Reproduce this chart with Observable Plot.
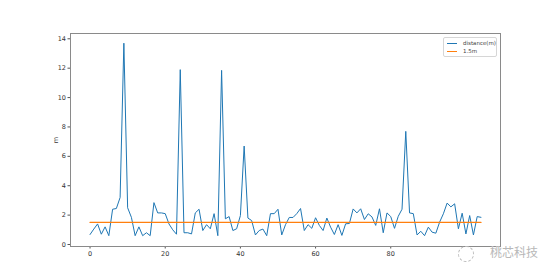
<!DOCTYPE html>
<html>
<head>
<meta charset="utf-8">
<script src="https://cdn.jsdelivr.net/npm/d3@7"></script>
<script src="https://cdn.jsdelivr.net/npm/@observablehq/plot@0.6"></script>
<style>
  html, body { margin: 0; padding: 0; background: #fff; }
  #wrap { position: relative; width: 554px; height: 276px; overflow: hidden; font-family: "DejaVu Sans", sans-serif; }
  #legend { position: absolute; left: 443px; top: 37px; width: 54px; height: 20px; border: 1px solid #d6d6d6; border-radius: 2px; background: rgba(255,255,255,0.85); font-size: 5.5px; color: #444; box-sizing: border-box; }
  .row { position: absolute; left: 3px; height: 7px; line-height: 7px; white-space: nowrap; }
  .sw { display: inline-block; width: 10px; height: 1px; vertical-align: middle; margin-right: 6px; }
  #wm { position: absolute; left: 458px; top: 243px; font-family: "Noto Sans CJK SC", sans-serif; font-size: 12px; color: #b8b8b8; white-space: nowrap; text-shadow: 0 0 1px #fff; }
  #logo { display: inline-block; width: 14px; height: 14px; border: 1px dashed #bbb; border-radius: 50%; vertical-align: middle; margin-right: 16px; }
</style>
</head>
<body>
<div id="wrap"></div>
<script>
// distance(m) series, index 0..104
const distance = [
  0.68, 1.05, 1.4, 0.7, 1.2, 0.6, 2.4, 2.45, 3.2, 13.7,
  2.5, 1.85, 0.6, 1.2, 0.6, 0.8, 0.6, 2.85, 2.15, 2.15,
  2.1, 1.4, 1.0, 0.7, 11.9, 0.8, 0.8, 0.72, 2.15, 2.4,
  0.95, 1.35, 1.07, 2.1, 0.6, 11.85, 1.75, 1.9, 0.95, 1.07,
  1.97, 6.7, 1.8, 1.63, 0.65, 0.95, 1.05, 0.6, 2.1, 2.1,
  2.4, 0.65, 1.35, 1.84, 1.84, 2.1, 2.45, 0.95, 1.35, 1.1,
  1.82, 1.3, 0.95, 1.8, 1.18, 0.68, 1.35, 0.62, 1.41, 1.43,
  2.42, 2.15, 2.43, 1.7, 2.09, 1.88, 1.3, 2.43, 0.8, 2.15,
  1.9, 1.1, 1.92, 2.4, 7.7, 2.15, 2.1, 0.65, 0.9, 0.6,
  1.18, 0.84, 0.77, 1.52, 2.09, 2.82, 2.56, 2.77, 1.07, 2.13,
  0.72, 1.97, 0.65, 1.9, 1.85
];
const thresholdX = [0, 104];
const thresholdY = [1.5, 1.5];
const xTicks = [0, 20, 40, 60, 80];
const yTicks = [0, 2, 4, 6, 8, 10, 12, 14];
const seriesNames = ["distance(m)", "1.5m"];
const colors = ["#1f77b4", "#ff7f0e"];
const watermark = "桃芯科技";

const threshold = thresholdX.map((x, i) => ({x, y: thresholdY[i]}));

const chart = Plot.plot({
  width: 554,
  height: 276,
  marginLeft: 70,
  marginRight: 54,
  marginTop: 33,
  marginBottom: 30,
  style: {fontFamily: "DejaVu Sans, sans-serif", fontSize: "6.5px", color: "#333", background: "#fff"},
  x: {domain: [-5.2, 109.2]},
  y: {domain: [-0.136, 14.36]},
  marks: [
    Plot.axisX({ticks: xTicks, tickSize: 2.5, tickPadding: 2, label: null, stroke: "#555"}),
    Plot.axisY({ticks: yTicks, tickSize: 2.5, tickPadding: 2, label: "m", labelAnchor: "center", labelArrow: "none", labelOffset: 17, stroke: "#555"}),
    Plot.lineY(distance, {x: (d, i) => i, y: d => d, stroke: colors[0], strokeWidth: 1}),
    Plot.line(threshold, {x: "x", y: "y", stroke: colors[1], strokeWidth: 1.3}),
    Plot.frame({stroke: "#8a8a8a", strokeWidth: 1})
  ]
});
const wrap = document.getElementById("wrap");
wrap.appendChild(chart);

const legend = document.createElement("div");
legend.id = "legend";
seriesNames.forEach((name, i) => {
  const row = document.createElement("div");
  row.className = "row";
  row.style.top = (2 + i * 8) + "px";
  const sw = document.createElement("span");
  sw.className = "sw";
  sw.style.background = colors[i];
  row.appendChild(sw);
  row.appendChild(document.createTextNode(name));
  legend.appendChild(row);
});
wrap.appendChild(legend);

const wm = document.createElement("div");
wm.id = "wm";
const logo = document.createElement("span");
logo.id = "logo";
wm.appendChild(logo);
wm.appendChild(document.createTextNode(watermark));
wrap.appendChild(wm);
</script>
</body>
</html>
